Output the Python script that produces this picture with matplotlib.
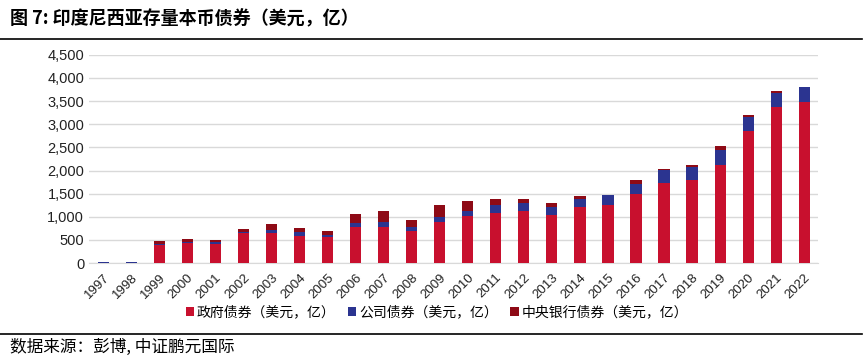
import matplotlib
matplotlib.use("Agg")
from matplotlib import pyplot as plt
import numpy as np

plt.rcParams['font.family'] = ['Liberation Sans', 'Noto Sans CJK SC', 'DejaVu Sans']

# data (USD 100m)
years = [str(y) for y in range(1997, 2023)]
gov = [0, 0, 390, 432, 418, 648, 648, 590, 562, 770, 778, 698, 893,
       1008, 1080, 1130, 1044, 1202, 1260, 1498, 1735, 1800, 2124, 2858, 3377, 3485]
corp = [15, 15, 20, 30, 36, 30, 72, 72, 43, 86, 108, 86, 94,
        122, 180, 166, 173, 173, 202, 216, 281, 266, 317, 288, 288, 309]
cbank = [0, 0, 75, 64, 50, 64, 130, 100, 93, 210, 244, 152, 273,
         216, 130, 94, 86, 79, 14, 86, 22, 58, 93, 58, 57, 15]

labels = ['政府债券（美元，亿）', '公司债券（美元，亿）', '中央银行债券（美元，亿）']
colors = ['#C8102E', '#2B3490', '#8E0A16']

fig = plt.figure(figsize=(8.65, 3.58), dpi=100)
ax = fig.add_axes([0.103, 0.265, 0.843, 0.582])

x = np.arange(len(years))
w = 0.4
gov = np.array(gov)
corp = np.array(corp)
cbank = np.array(cbank)
ax.bar(x, gov, w, color=colors[0], label=labels[0], zorder=3)
ax.bar(x, corp, w, bottom=gov, color=colors[1], label=labels[1], zorder=3)
ax.bar(x, cbank, w, bottom=gov + corp, color=colors[2], label=labels[2], zorder=3)

ax.set_ylim(0, 4500)
ax.set_xlim(-0.5, len(years) - 0.5)
ax.set_yticks(np.arange(0, 4501, 500))
ax.set_yticklabels([f'{v:,}' for v in range(0, 4501, 500)], fontsize=10.5, color='#222222')
ax.set_xticks(x)
ax.set_xticklabels(years, rotation=45, ha='right', rotation_mode='anchor', fontsize=9.5, color='#222222')
ax.tick_params(axis='both', length=0)
ax.tick_params(axis='x', pad=6)
ax.grid(axis='y', color='#d9d9d9', linewidth=1, zorder=0)
for s in ['top', 'right', 'left']:
    ax.spines[s].set_visible(False)
ax.spines['bottom'].set_color('#d9d9d9')

leg = fig.legend(loc='center', bbox_to_anchor=(0.505, 0.127), ncol=3, frameon=False,
                 handlelength=0.6, handleheight=0.6, handletextpad=0.2, columnspacing=0.9,
                 prop={'family': ['Noto Sans CJK SC', 'DejaVu Sans'], 'size': 10})

fig.text(0.012, 0.948, '图 7: 印度尼西亚存量本币债券（美元，亿）', fontsize=13, fontweight='bold',
         family=['Noto Sans CJK SC', 'DejaVu Sans'], va='center', ha='left')
fig.add_artist(plt.Line2D([0.0, 0.997], [0.892, 0.892], color='black', linewidth=1.2))
fig.add_artist(plt.Line2D([0.0, 0.997], [0.068, 0.068], color='black', linewidth=1.2))
fig.text(0.012, 0.03, '数据来源：彭博, 中证鹏元国际', fontsize=12,
         family=['Noto Sans CJK SC', 'DejaVu Sans'], va='center', ha='left')

fig.savefig('out.png', dpi=100)
